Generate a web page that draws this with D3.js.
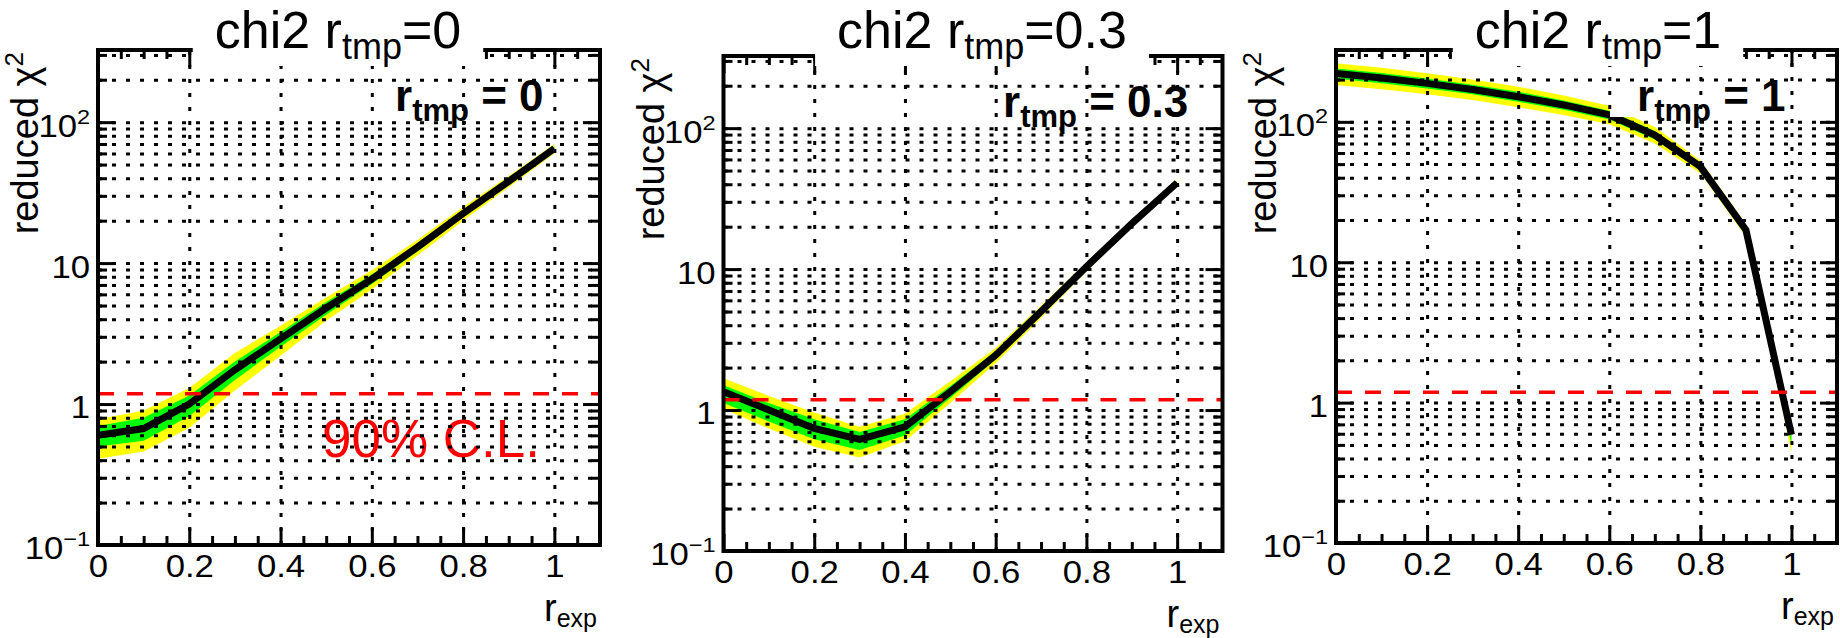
<!DOCTYPE html>
<html>
<head>
<meta charset="utf-8">
<script src="https://cdn.jsdelivr.net/npm/d3@7"></script>
<style>
  html, body { margin: 0; padding: 0; background: #fff; }
  svg { display: block; font-family: "Liberation Sans", Arial, Helvetica, sans-serif; }
</style>
</head>
<body>
<div class="graphique"></div>
<script>
// r_exp values (x axis)
const rExp = [0, 0.1, 0.2, 0.3, 0.4, 0.5, 0.6, 0.7, 0.8, 0.9, 1];

// r_tmp = 0
const chi2_r0      = [0.60, 0.67, 1.00, 1.75, 2.90, 4.8, 7.7, 13.0, 22.5, 38.0, 65];
const green_lo_r0  = [0.50, 0.55, 0.82, 1.48, 2.55, 4.3, 7.1, 12.1, 21.2, 36.2, 62.5];
const green_hi_r0  = [0.70, 0.80, 1.15, 2.00, 3.25, 5.3, 8.3, 13.8, 23.8, 39.8, 67.5];
const yellow_lo_r0 = [0.41, 0.46, 0.68, 1.25, 2.20, 3.9, 6.5, 11.3, 20.0, 34.5, 60];
const yellow_hi_r0 = [0.78, 0.90, 1.30, 2.30, 3.60, 5.7, 8.9, 14.6, 25.0, 41.5, 70];

// r_tmp = 0.3
const chi2_r03      = [1.35, 1.00, 0.74, 0.62, 0.76, 1.35, 2.45, 5.0, 10.4, 21.0, 41.0];
const green_lo_r03  = [1.12, 0.83, 0.62, 0.52, 0.66, 1.22, 2.28, 4.7, 9.9, 20.3, 40.2];
const green_hi_r03  = [1.50, 1.12, 0.86, 0.70, 0.86, 1.48, 2.62, 5.3, 10.9, 21.7, 41.8];
const yellow_lo_r03 = [1.02, 0.74, 0.55, 0.46, 0.60, 1.12, 2.15, 4.5, 9.6, 19.8, 39.5];
const yellow_hi_r03 = [1.68, 1.26, 0.96, 0.76, 0.94, 1.60, 2.76, 5.5, 11.2, 22.2, 42.5];

// r_tmp = 1
const chi2_r1      = [221, 205, 188, 170, 151, 132, 112, 80.5, 48.0, 17.0, 0.59];
const green_lo_r1  = [203, 188, 173, 157, 139, 122, 104, 75.0, 45.5, 16.1, 0.50];
const green_hi_r1  = [240, 223, 204, 184, 164, 142, 120, 86.0, 50.5, 17.9, 0.68];
const yellow_lo_r1 = [183, 171, 157, 143, 127, 112, 96, 70.0, 43.0, 15.2, 0.44];
const yellow_hi_r1 = [262, 243, 222, 200, 178, 154, 130, 92.0, 53.0, 18.8, 0.75];

// 90% C.L. threshold of the reduced chi2
const cl90 = 1.185;

// axes
const xMajor = [0, 0.2, 0.4, 0.6, 0.8, 1];
const xMinor = [0.05, 0.1, 0.15, 0.25, 0.3, 0.35, 0.45, 0.5, 0.55, 0.65, 0.7, 0.75, 0.85, 0.9, 0.95, 1.05];
const yMajor = [0.1, 1, 10, 100];
const yMajorBase = ["10", "1", "10", "10"];
const yMajorExp = ["\u22121", "", "", "2"];
const yMinor = [0.2, 0.3, 0.4, 0.5, 0.6, 0.7, 0.8, 0.9, 2, 3, 4, 5, 6, 7, 8, 9,
                20, 30, 40, 50, 60, 70, 80, 90, 200, 300];
const rTmpLabels = ["0", "0.3", "1"];

const series = [
  { c: chi2_r0,  g0: green_lo_r0,  g1: green_hi_r0,  y0: yellow_lo_r0,  y1: yellow_hi_r0 },
  { c: chi2_r03, g0: green_lo_r03, g1: green_hi_r03, y0: yellow_lo_r03, y1: yellow_hi_r03 },
  { c: chi2_r1,  g0: green_lo_r1,  g1: green_hi_r1,  y0: yellow_lo_r1,  y1: yellow_hi_r1 }
];

// mise en page des trois pads
const panels = [
  { left: 98,    right: 600,    top: 50, bottom: 545, titleX: 338,  titleY: 48, labelX: 395 },
  { left: 723.5, right: 1222.5, top: 56, bottom: 551, titleX: 982,  titleY: 48, labelX: 1003 },
  { left: 1336,  right: 1837,   top: 50, bottom: 543, titleX: 1598, titleY: 48, labelX: 1637 }
];

const width = 1840, height = 638;
const svg = d3.select('.graphique').append('svg')
  .attr('width', width)
  .attr('height', height)
  .attr('viewBox', `0 0 ${width} ${height}`);

svg.append('rect').attr('width', width).attr('height', height).attr('fill', '#fff');

panels.forEach((p, i) => drawPanel(p, series[i], i));

function drawPanel(p, s, i) {
  const x = d3.scaleLinear().domain([0, 1.1]).range([p.left, p.right]);
  const y = d3.scaleLog().domain([0.1, 325]).range([p.bottom, p.top]);
  const w = p.right - p.left, h = p.bottom - p.top;
  const g = svg.append('g');

  svg.append('clipPath').attr('id', 'clip' + i)
    .append('rect').attr('x', p.left).attr('y', p.top).attr('width', w).attr('height', h);

  const pts = rExp.map((r, k) => ({ r, c: s.c[k], g0: s.g0[k], g1: s.g1[k], y0: s.y0[k], y1: s.y1[k] }));
  const plot = g.append('g').attr('clip-path', `url(#clip${i})`);

  plot.append('path').datum(pts)
    .attr('d', d3.area().x(d => x(d.r)).y0(d => y(d.y0)).y1(d => y(d.y1)))
    .attr('fill', '#ffff00');
  plot.append('path').datum(pts)
    .attr('d', d3.area().x(d => x(d.r)).y0(d => y(d.g0)).y1(d => y(d.g1)))
    .attr('fill', '#00ff00');
  plot.append('path').datum(pts)
    .attr('d', d3.line().x(d => x(d.r)).y(d => y(d.c)))
    .attr('fill', 'none').attr('stroke', '#000').attr('stroke-width', 7)
    .attr('stroke-linejoin', 'miter');

  // ligne rouge 90% C.L.
  plot.append('line')
    .attr('x1', x(0)).attr('x2', p.right)
    .attr('y1', y(cl90)).attr('y2', y(cl90))
    .attr('stroke', '#ff0000').attr('stroke-width', 3.5).attr('stroke-dasharray', '16,13');

  // étiquette r_tmp = ...
  const lab = g.append('g');
  const labText = lab.append('text')
    .attr('x', p.labelX).attr('y', p.top + 61)
    .attr('font-size', 44).attr('font-weight', 'bold').attr('fill', '#000');
  labText.append('tspan').text('r');
  labText.append('tspan').attr('font-size', 31).attr('dy', 10).text('tmp');
  labText.append('tspan').attr('dy', -10).text(' = ' + rTmpLabels[i]);
  const lb = labText.node().getBBox();
  lab.insert('rect', 'text')
    .attr('x', p.labelX - 27).attr('y', p.top + 25)
    .attr('width', lb.width + 45).attr('height', 42)
    .attr('fill', '#fff');

  if (i === 0) {
    g.append('text').attr('x', 322).attr('y', 457)
      .attr('font-size', 53).attr('fill', '#ff0000').text('90% C.L.');
  }

  // grille pointillée
  const gridY = g.append('g').attr('transform', `translate(${p.left},0)`)
    .call(d3.axisLeft(y).tickValues(yMajor.concat(yMinor)).tickSize(-w).tickFormat(''));
  const gridX = g.append('g').attr('transform', `translate(0,${p.bottom})`)
    .call(d3.axisBottom(x).tickValues(xMajor.slice(1)).tickSize(-h).tickFormat(''));
  [gridY, gridX].forEach(a => {
    a.select('.domain').remove();
    a.selectAll('line').attr('stroke', '#000').attr('stroke-width', 3).attr('stroke-dasharray', '4,10');
  });

  // graduations
  const tick = (axis, tx, ty) => {
    const a = g.append('g').attr('transform', `translate(${tx},${ty})`).call(axis);
    a.select('.domain').remove();
    a.selectAll('line').attr('stroke', '#000').attr('stroke-width', 3);
    a.attr('font-family', null).attr('font-size', null);
    return a;
  };
  const xb = tick(d3.axisBottom(x).tickValues(xMajor).tickSize(-17).tickPadding(10)
    .tickFormat(d => d3.format('~g')(d)), 0, p.bottom);
  xb.selectAll('text').attr('font-size', 31).attr('fill', '#000').attr('transform', 'scale(1.12,1)');
  tick(d3.axisBottom(x).tickValues(xMinor).tickSize(-9).tickFormat(''), 0, p.bottom);
  tick(d3.axisTop(x).tickValues(xMajor).tickSize(-17).tickFormat(''), 0, p.top);
  tick(d3.axisTop(x).tickValues(xMinor).tickSize(-9).tickFormat(''), 0, p.top);

  const yl = tick(d3.axisLeft(y).tickValues(yMajor).tickSize(-17).tickPadding(7), p.left, 0);
  yl.selectAll('text').each(function (d, k) {
    const t = d3.select(this).text('').attr('font-size', 31).attr('fill', '#000')
      .attr('y', 4).attr('transform', 'scale(1.12,1)');
    t.append('tspan').text(yMajorBase[k]);
    if (yMajorExp[k]) t.append('tspan').attr('font-size', 21).attr('dy', -13).text(yMajorExp[k]);
  });
  tick(d3.axisLeft(y).tickValues(yMinor).tickSize(-9).tickFormat(''), p.left, 0);
  tick(d3.axisRight(y).tickValues(yMajor).tickSize(-17).tickFormat(''), p.right, 0);
  tick(d3.axisRight(y).tickValues(yMinor).tickSize(-9).tickFormat(''), p.right, 0);

  // cadre
  g.append('rect').attr('x', p.left).attr('y', p.top).attr('width', w).attr('height', h)
    .attr('fill', 'none').attr('stroke', '#000').attr('stroke-width', 4);

  // titres des axes
  const yt = g.append('text')
    .attr('transform', `translate(${p.left - 60},${p.top + 2}) rotate(-90)`)
    .attr('text-anchor', 'end').attr('font-size', 38).attr('fill', '#000');
  yt.append('tspan').text('reduced \u03c7');
  yt.append('tspan').attr('font-size', 26).attr('dy', -15).text('2');

  const xt = g.append('text')
    .attr('x', p.right - 3).attr('y', p.bottom + 76)
    .attr('text-anchor', 'end').attr('font-size', 38).attr('fill', '#000');
  xt.append('tspan').text('r');
  xt.append('tspan').attr('font-size', 25).attr('dy', 6).text('exp');

  // titre du pad
  const tg = g.append('g');
  const tt = tg.append('text')
    .attr('x', p.titleX).attr('y', p.titleY)
    .attr('text-anchor', 'middle').attr('font-size', 52).attr('fill', '#000');
  tt.append('tspan').text('chi2 r');
  tt.append('tspan').attr('font-size', 36).attr('dy', 11).text('tmp');
  tt.append('tspan').attr('dy', -11).text('=' + rTmpLabels[i]);
  const tb = tt.node().getBBox();
  tg.insert('rect', 'text')
    .attr('x', tb.x - 22).attr('y', 0)
    .attr('width', tb.width + 44).attr('height', 66)
    .attr('fill', '#fff');
}
</script>
</body>
</html>
